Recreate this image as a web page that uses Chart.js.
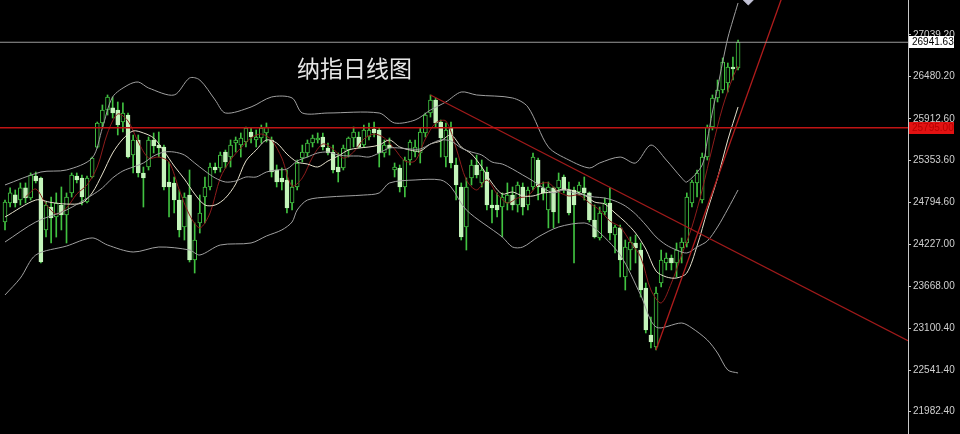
<!DOCTYPE html>
<html><head><meta charset="utf-8">
<script src="https://cdn.jsdelivr.net/npm/chart.js@4"></script>
<style>
html,body{margin:0;padding:0;background:#000;overflow:hidden}
#wrap{position:relative;width:960px;height:434px}
#title{position:absolute;left:297px;top:56px;font:23px/1 "Noto Sans CJK SC",sans-serif;color:#e6e6e6;white-space:nowrap;pointer-events:none}
canvas{display:block}
</style></head><body>
<div id="wrap"><canvas id="c" width="960" height="434"></canvas><div id="title">纳指日线图</div></div>
<script>
const titleText = "纳指日线图";
const yTicks = [27039.20, 26480.20, 25912.60, 25353.60, 24794.60, 24227.00, 23668.00, 23100.40, 22541.40, 21982.40];
const lastPrice = 26941.63;
const redLevel = 25795.00;

const opens = [24529,24784,24892,24824,24986,24852,25146,25120,24422,24730,
24596,24757,24623,24919,25146,25120,24797,25133,25535,25858,
26032,26060,26032,25871,25965,25428,25630,25187,25267,25630,
25562,25536,25066,25053,24824,24462,24891,24019,24516,24864,
24999,25267,25254,25468,25401,25589,25562,25603,25737,25630,
25657,25724,25630,25227,25120,25093,24784,24999,25388,25455,
25589,25630,25670,25522,25468,25267,25254,25495,25657,25670,
25562,25670,25777,25764,25455,25562,25227,25254,24999,25361,
25468,25455,25724,25992,26167,25871,25401,25791,25294,24999,
24462,25120,25294,25053,25200,24757,24757,24730,24784,24891,
24757,24999,24757,24999,25361,24986,24690,24986,24986,25133,
24959,24959,24932,24986,24919,24556,24314,24663,24784,24354,
24449,23791,24153,24247,24153,23643,23012,22851,23710,23979,
24046,23979,24180,24247,24784,25053,24824,25401,25804,26194,
26301,26395,26610,26596];
const highs = [24824,24986,24959,25053,25053,25187,25200,25133,24797,24864,
24919,24999,24919,25187,25187,25160,25146,25401,25871,26100,
26234,26207,26140,26127,25992,25697,25697,25267,25670,25724,
25737,25562,25334,25133,24959,24919,25227,24516,24891,25133,
25321,25321,25468,25495,25630,25670,25724,25804,25791,25764,
25831,25858,25670,25294,25254,25227,25093,25361,25562,25630,
25697,25724,25724,25589,25562,25455,25562,25670,25804,25737,
25831,25858,25871,25791,25630,25657,25321,25294,25401,25630,
25630,25791,25992,26234,26194,25898,25858,25871,25388,25053,
25120,25361,25428,25361,25267,24959,24919,24919,25053,24999,
25066,25053,24999,25455,25388,25066,25066,24999,25187,25160,
25066,24999,25066,25133,24932,24757,24730,24851,24986,24489,
24489,24287,24328,24354,24247,23710,23254,23656,24153,24113,
24086,24247,24314,24919,25093,25227,25455,25831,26234,26435,
26731,26663,26744,26972];
const lows = [24422,24730,24730,24757,24784,24824,25053,23979,24327,24247,
24327,24422,24247,24864,25053,24757,24784,25120,25522,25804,
25965,25925,25697,25737,25388,25187,25133,24730,25227,25455,
25401,24959,24596,24650,24328,24287,23992,23844,24381,24516,
24959,25187,25200,25254,25267,25468,25401,25536,25589,25536,
25589,25603,25133,24999,24959,24650,24690,24959,25334,25401,
25536,25589,25495,25428,25187,25066,25227,25401,25536,25522,
25536,25630,25670,25267,25401,25428,25133,24932,24864,25294,
25401,25321,25670,25938,25804,25401,25267,25254,24824,24287,
24153,25026,25120,24999,24690,24516,24596,24328,24690,24690,
24663,24623,24690,24959,24824,24824,24449,24449,24516,24919,
24623,23979,24891,24824,24529,24314,24287,24623,24287,24113,
23791,23616,23885,23979,23522,23039,22837,22811,23656,23885,
23885,23791,23979,24193,24730,24864,24784,25361,25764,26140,
26261,26274,26435,26569];
const closes = [24797,24919,24784,24986,24852,25160,25080,23992,24757,24583,
24784,24623,24864,25160,25093,24864,25120,25388,25858,26032,
26207,25992,25831,25992,25401,25630,25187,25120,25630,25549,
25522,24999,24999,24824,24422,24864,24019,24287,24650,24999,
25267,25227,25428,25334,25562,25630,25657,25791,25670,25670,
25791,25804,25200,25066,25066,24717,24999,25321,25468,25589,
25657,25657,25536,25455,25227,25200,25522,25657,25737,25536,
25764,25764,25724,25455,25562,25522,25267,24999,25361,25603,
25536,25737,25965,26167,25858,25657,25764,25321,25026,24328,
24999,25294,25160,25227,24757,24717,24690,24864,24891,24757,
25026,24730,24959,25401,24999,24919,24999,24663,25093,24959,
24650,24757,25026,24919,24556,24328,24650,24784,24381,24462,
24019,24193,24260,24180,23616,23079,22918,23576,24019,24046,
23979,24153,24260,24864,25066,25187,25401,25804,26194,26301,
26677,26610,26583,26941.63];

// indicator readings: [bar index, value]
const upperBand = [[0,25026],[7,25200],[12,25227],[17,25388],[19,25791],[21,26207],[24,26368],[26,26408],[28,26328],[33,26234],[36,26462],[38,26435],[41,26167],[43,25992],[48,26073],[52,26207],[56,26194],[58,25992],[63,25992],[73,25992],[76,25858],[80,25898],[83,26032],[86,26140],[89,26274],[92,26234],[99,26194],[102,26073],[106,25536],[110,25361],[114,25254],[116,25321],[120,25401],[123,25321],[126,25562],[129,25361],[132,25120],[133,25066],[136,25294],[137,25630],[138,26006],[139,26328],[140,26677],[141,26999],[142,27240],[143,27469]];
const middleBand = [[0,24260],[6,24529],[12,24690],[17,24891],[19,24986],[21,25120],[23,25214],[25,25267],[27,25321],[29,25415],[31,25468],[33,25468],[35,25428],[37,25321],[39,25214],[41,25120],[43,25066],[45,25079],[47,25133],[49,25133],[51,25200],[53,25227],[55,25240],[57,25348],[59,25401],[61,25455],[63,25468],[65,25428],[67,25415],[69,25415],[71,25401],[73,25455],[75,25522],[77,25522],[79,25509],[81,25509],[83,25576],[85,25630],[87,25616],[89,25522],[91,25468],[93,25428],[95,25334],[97,25307],[99,25240],[101,25160],[103,25080],[105,24986],[107,24919],[109,24959],[111,24919],[113,24891],[115,24864],[117,24851],[119,24811],[121,24744],[123,24636],[125,24489],[127,24328],[129,24220],[131,24153],[133,24113],[135,24193],[137,24274],[139,24462],[141,24703],[143,24959]];
const lowerBand = [[0,23549],[3,23777],[6,24086],[12,24206],[17,24315],[20,24220],[25,24126],[30,24193],[36,24153],[38,24086],[42,24220],[48,24247],[51,24341],[54,24422],[56,24529],[57,24690],[59,24824],[63,24864],[70,24891],[73,24919],[75,25053],[80,25093],[85,25093],[87,24999],[90,24690],[97,24328],[99,24193],[101,24193],[104,24328],[108,24462],[113,24516],[115,24449],[120,24086],[124,23549],[127,23119],[132,23173],[134,23106],[137,22945],[139,22770],[141,22542],[143,22502]];
const ma10 = [[0,24596],[6,24824],[9,24791],[12,24770],[15,24784],[17,24919],[19,25173],[21,25455],[23,25643],[25,25751],[27,25724],[29,25657],[31,25482],[33,25281],[35,25106],[37,24905],[39,24757],[41,24757],[43,24851],[45,25039],[47,25348],[49,25495],[51,25630],[53,25589],[55,25441],[57,25334],[59,25307],[61,25267],[63,25348],[65,25415],[67,25495],[69,25522],[71,25536],[73,25562],[75,25630],[77,25536],[79,25495],[81,25482],[83,25576],[85,25616],[87,25697],[89,25536],[91,25441],[93,25267],[95,25053],[97,24905],[99,24932],[101,24878],[103,24878],[105,24919],[107,24932],[109,24972],[111,24945],[113,24891],[115,24797],[117,24770],[119,24650],[121,24529],[123,24381],[125,24166],[127,23871],[129,23791],[131,23777],[133,23844],[135,24207],[137,24677],[139,25120],[141,25630],[143,26073]];
const ma5 = [[4,24864],[6,24972],[8,24770],[10,24636],[12,24717],[14,24905],[16,25026],[18,25267],[20,25724],[22,25979],[24,25885],[26,25603],[28,25388],[30,25401],[32,25334],[34,24959],[36,24623],[38,24449],[40,24650],[42,25120],[44,25361],[46,25522],[48,25657],[50,25710],[52,25630],[54,25388],[56,25012],[58,25120],[60,25401],[62,25576],[64,25509],[66,25388],[68,25468],[70,25643],[72,25710],[74,25657],[76,25509],[78,25348],[80,25348],[82,25643],[84,25858],[86,25885],[88,25522],[90,25093],[92,24959],[94,25093],[96,24905],[98,24784],[100,24851],[102,24878],[104,25026],[106,25053],[108,24932],[110,24878],[112,24891],[114,24784],[116,24690],[118,24542],[120,24462],[122,24260],[124,24059],[126,23616],[128,23442],[130,23710],[132,24086],[134,24462],[136,24959],[138,25536],[140,26073],[142,26475],[143,26623]];
const downTrend = [[83,26234],[176.15,22935]];
const upTrend = [[127,22811],[152,27628]];
const marker = [[145,27563]];

const X_MIN = -0.975, X_MAX = 176.15;
const xy = a => a.map(([x,y]) => ({x, y}));
const hline = v => [{x:X_MIN, y:v}, {x:X_MAX, y:v}];

const wickData = highs.map((h,i) => ({x:i, y:[lows[i], h]}));
const bodyData = opens.map((o,i) => ({x:i, y:[o, closes[i]]}));
const isBull = i => closes[i] >= opens[i];
const GREEN = '#41c241', PALE = '#c4f4bb';

const bgPlugin = { id:'bg', beforeDraw(c){ const ctx=c.ctx; ctx.save(); ctx.fillStyle='#000'; ctx.fillRect(0,0,c.width,c.height); ctx.restore(); } };
const tagPlugin = { id:'tags', afterDraw(c){
  const ctx=c.ctx, ys=c.scales.y, left=c.chartArea.right+1;
  const tag=(v,txt,bg,fg)=>{ const py=Math.round(ys.getPixelForValue(v));
    ctx.save(); ctx.fillStyle=bg; ctx.fillRect(left, py-6, 45, 12);
    ctx.fillStyle=fg; ctx.font='10px "Liberation Sans", Arial, sans-serif'; ctx.textBaseline='middle'; ctx.textAlign='left';
    ctx.fillText(txt, left+3, py+0.5); ctx.restore(); };
  tag(redLevel, redLevel.toFixed(2), '#e21212', '#b80000');
  tag(lastPrice, lastPrice.toFixed(2), '#ffffff', '#000000');
}};

const lineDs = (data, color, width, tension, order) => ({type:'line', data, borderColor:color, borderWidth:width, pointRadius:0, tension, order, fill:false});

new Chart(document.getElementById('c'), {
  type:'bar',
  data:{ datasets:[
    lineDs(hline(lastPrice), '#9a9a9a', 1, 0, 0),
    lineDs(hline(redLevel), '#c01414', 1.5, 0, 0),
    lineDs(xy(downTrend), '#a01a1a', 1.3, 0, 0),
    lineDs(xy(upTrend), '#b01c1c', 1.3, 0, 0),
    lineDs(xy(upperBand), '#a0a0a0', 1, 0.3, 1),
    lineDs(xy(middleBand), '#a0a0a0', 1, 0.3, 1),
    lineDs(xy(lowerBand), '#a0a0a0', 1, 0.3, 1),
    lineDs(xy(ma10), '#e6e1cc', 1, 0.3, 1),
    lineDs(xy(ma5), '#8e1c1c', 1, 0.3, 1),
    {type:'line', data:xy(marker), showLine:false, pointStyle:'rectRot', pointRadius:9, backgroundColor:'#c2c2d6', borderColor:'#c2c2d6', order:0},
    {type:'bar', data:bodyData, grouped:false, barThickness:4, minBarLength:1, borderSkipped:false, borderWidth:1,
     backgroundColor: bodyData.map((_,i)=> isBull(i) ? '#000000' : PALE),
     borderColor: bodyData.map((_,i)=> isBull(i) ? GREEN : PALE), order:2},
    {type:'bar', data:wickData, grouped:false, barThickness:1, backgroundColor:GREEN, borderWidth:0, order:3}
  ]},
  options:{
    responsive:false, animation:false, devicePixelRatio:1,
    layout:{padding:0, autoPadding:false},
    plugins:{legend:{display:false}, tooltip:{enabled:false}, title:{display:false}},
    scales:{
      x:{type:'linear', min:X_MIN, max:X_MAX, offset:false, display:false},
      y:{position:'right', min:21683, max:27509, beginAtZero:false,
         afterBuildTicks: s => { s.ticks = yTicks.map(v => ({value:v})); },
         afterFit: s => { s.width = 52; s.paddingTop = 0; s.paddingBottom = 0; },
         ticks:{color:'#d0d0d0', font:{family:'"Liberation Sans", Arial, sans-serif', size:10}, padding:2, autoSkip:false, callback: v => Number(v).toFixed(2)},
         grid:{drawOnChartArea:false, drawTicks:true, tickLength:3, color:'#c8c8c8'},
         border:{display:true, color:'#c8c8c8', width:1}}
    }
  },
  plugins:[bgPlugin, tagPlugin]
});
</script>
</body></html>
